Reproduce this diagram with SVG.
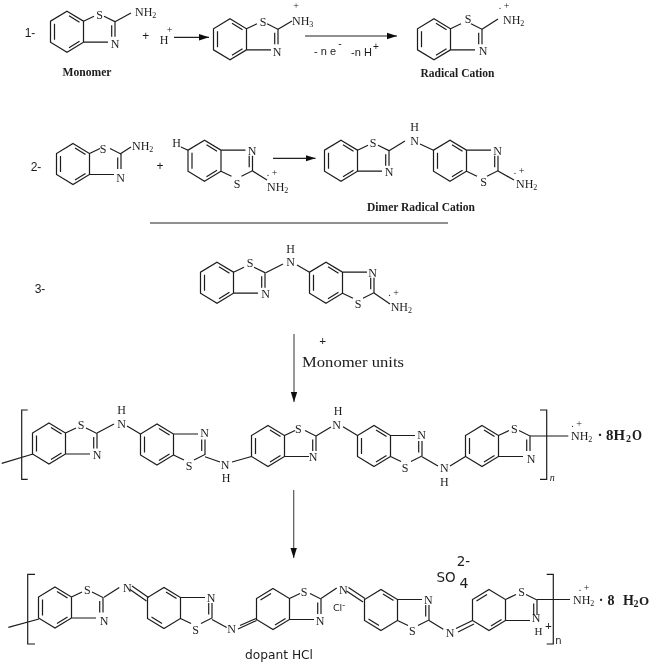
<svg xmlns="http://www.w3.org/2000/svg" width="650" height="663" viewBox="0 0 650 663">
<style>
text{font-family:"Liberation Serif",serif;fill:#1c1c1c;font-size:12px;text-anchor:middle}
.l{text-anchor:start}
.b{font-weight:bold;font-size:12px}
.z{font-size:8px}
.p{font-size:10px}
.h{font-family:"Liberation Sans",sans-serif;font-size:12px}
.d{font-family:"DejaVu Sans",sans-serif;font-size:12px}
.w{font-size:15px;font-weight:bold}
.bd{fill:none;stroke:#1c1c1c;stroke-width:1.2}
#arrows line{stroke:#222;stroke-width:1.2}
</style>
<defs>
<filter id="soft" filterUnits="userSpaceOnUse" x="0" y="0" width="650" height="663"><feGaussianBlur stdDeviation="0.35"/></filter>
<marker id="ah" markerUnits="userSpaceOnUse" markerWidth="10" markerHeight="8" refX="10" refY="4" orient="auto"><path d="M0,0.8 L10,4 L0,7.2Z" fill="#111"/></marker>
<path id="bt" class="bd" d="M0,-20.5 L16.5,-10.5 V10.5 L0,20.5 L-16.5,10.5 V-10.5Z M2,-16 L12.5,-9.5 M-12.5,-8 V8 M2,16 L12.5,9.5 M16.5,-10.5 L27,-15.5 M37,-15.5 L48,-10 V5 M44.7,-6.5 V5 M41,10.5 H16.5"/>
<path id="qn" class="bd" d="M0,-20.5 L16.5,-10.5 V10.5 L0,20.5 L-16.5,10.5 V-10.5Z M-12.5,-9 L-2,-15.5 M2,16 L12.5,9.5 M16.5,-10.5 L27,-15.5 M37,-15.5 L48,-10 V5 M44.7,-6.5 V5 M41,10.5 H16.5"/>
</defs>
<g filter="url(#soft)">

<g id="label-1"><text class="h" x="30" y="37">1-</text></g>
<g id="monomer">
<use href="#bt" transform="translate(67,31.7)"/>
<path class="bd" d="M115,21.7 L131,13"/>
<text x="99.5" y="18.5">S</text><text x="115" y="47.5">N</text>
<text class="l" x="135" y="15.5">NH<tspan class="z" dy="2">2</tspan></text>
<text class="b" x="87" y="75.5" textLength="49" lengthAdjust="spacingAndGlyphs">Monomer</text>
</g>
<g id="plus-h">
<text class="h" x="145.7" y="40">+</text>
<text x="164" y="44">H</text><text class="p" x="169.5" y="33">+</text>
</g>
<g id="protonated">
<use href="#bt" transform="translate(230,39.3)"/>
<path class="bd" d="M278,29.3 L292,21"/>
<text x="263" y="25.5">S</text><text x="277" y="55.5">N</text>
<text class="l" x="292" y="25">NH<tspan class="z" dy="2">3</tspan></text>
<text class="p" x="296" y="9">+</text>
</g>
<g id="radical-cation">
<use href="#bt" transform="translate(434,39.3)"/>
<path class="bd" d="M482,29.3 L498,19"/>
<text x="468" y="23">S</text><text x="483" y="54.5">N</text>
<text class="l" x="503" y="23.5">NH<tspan class="z" dy="2">2</tspan></text>
<text class="p" x="504" y="9">. +</text>
<text class="b" x="457.5" y="76.5" textLength="74" lengthAdjust="spacingAndGlyphs">Radical Cation</text>
</g>
<g id="electron-loss">
<text class="h" x="325" y="55" style="font-size:11px">- n e</text><text class="h" x="340" y="47" style="font-size:10px">-</text>
<text class="h" x="361.5" y="56" style="font-size:11px">-n H</text><text class="h" x="376" y="50" style="font-size:10px">+</text>
</g>

<g id="label-2"><text class="h" x="36" y="171">2-</text></g>
<g id="monomer-2">
<use href="#bt" transform="translate(73,164)"/>
<path class="bd" d="M120,154 L131,147"/>
<text x="103" y="152.5">S</text><text x="120.5" y="181.5">N</text>
<text class="l" x="132" y="149.5">NH<tspan class="z" dy="2">2</tspan></text>
</g>
<g id="plus-2"><text class="h" x="160" y="170">+</text></g>
<g id="radical-2">
<use href="#bt" transform="translate(204.5,160.7) scale(1,-1)"/>
<path class="bd" d="M181,147 L188,150.2 M252.5,171 L267,180"/>
<text x="176.5" y="147">H</text>
<text x="252" y="155">N</text><text x="237" y="187.5">S</text>
<text class="l" x="267" y="191">NH<tspan class="z" dy="2">2</tspan></text>
<text class="p" x="272" y="175.5">. +</text>
</g>
<g id="dimer">
<use href="#bt" transform="translate(341,160.7)"/>
<use href="#bt" transform="translate(450,160.7) scale(1,-1)"/>
<path class="bd" d="M389,150.7 L405,141 M420,144 L433.5,150.2 M498,171 L514,180"/>
<text x="373" y="146.5">S</text><text x="389" y="175.5">N</text>
<text x="414.5" y="131">H</text><text x="414.5" y="144.5">N</text>
<text x="497.5" y="154.5">N</text><text x="483.7" y="185.5">S</text>
<text class="l" x="516" y="188">NH<tspan class="z" dy="2">2</tspan></text>
<text class="p" x="519" y="173.5">. +</text>
<text class="b" x="421" y="210.5" textLength="108" lengthAdjust="spacingAndGlyphs">Dimer Radical Cation</text>
</g>

<g id="label-3"><text class="h" x="40" y="293">3-</text></g>
<g id="dimer-3">
<use href="#bt" transform="translate(217,282.7)"/>
<use href="#bt" transform="translate(326,282.7) scale(1,-1)"/>
<path class="bd" d="M265.7,272.7 L283,264 M297,265 L309.5,272.2 M374,293 L390,304"/>
<text x="250" y="267">S</text><text x="265.7" y="297.5">N</text>
<text x="290.7" y="252.5">H</text><text x="290.7" y="266">N</text>
<text x="372.7" y="276.5">N</text><text x="358" y="307.5">S</text>
<text class="l" x="390.7" y="310.5">NH<tspan class="z" dy="2">2</tspan></text>
<text class="p" x="393.5" y="296">. +</text>
</g>
<g id="monomer-units">
<text class="b" x="322.7" y="345">+</text>
<text x="353" y="366.5" style="font-size:15px" textLength="102" lengthAdjust="spacingAndGlyphs">Monomer units</text>
</g>

<g id="polymer">
<path class="bd" d="M27.7,410 H21.7 V479.3 H27.7 M1.7,463.3 L33,454 M540,410 H546.7 V479.3 H540"/>
<use href="#bt" transform="translate(49,443.5)"/>
<use href="#bt" transform="translate(157,444.5) scale(1,-1)"/>
<use href="#bt" transform="translate(268,446)"/>
<use href="#bt" transform="translate(374,446) scale(1,-1)"/>
<use href="#bt" transform="translate(482,446)"/>
<path class="bd" d="M97,433 L114,424 M127,426 L140.5,434 M205,456.7 L220,462 M232,462 L251.5,456.5 M316,436 L331,427 M343,426.7 L357.5,435.5 M422,456.7 L438,466 M450,466 L465.5,456.5 M530,436 H568.3"/>
<text x="81" y="429">S</text><text x="97" y="459">N</text>
<text x="121.7" y="413.5">H</text><text x="121.7" y="427.5">N</text>
<text x="204.5" y="437">N</text><text x="189" y="469.5">S</text>
<text x="225" y="468.5">N</text><text x="226" y="481.5">H</text>
<text x="298.3" y="432.5">S</text><text x="313" y="460.5">N</text>
<text x="338" y="415">H</text><text x="336.7" y="428.5">N</text>
<text x="421.7" y="439">N</text><text x="405" y="471.5">S</text>
<text x="444.3" y="472">N</text><text x="444.3" y="485.5">H</text>
<text x="514.3" y="432.5">S</text><text x="531" y="462.5">N</text>
<text x="552.3" y="480.5" style="font-style:italic;font-size:10px">n</text>
<text class="l" x="571" y="439.5">NH<tspan class="z" dy="2">2</tspan></text>
<text class="p" x="576.5" y="427">. +</text>
<text class="w" x="600" y="440">·</text>
<text class="w l" x="606" y="440" textLength="19" lengthAdjust="spacingAndGlyphs">8H</text>
<text class="w" x="628.5" y="442" style="font-size:10px">2</text>
<text class="w l" x="632" y="440" textLength="10" lengthAdjust="spacingAndGlyphs">O</text>
</g>

<g id="doped-polymer">
<path class="bd" d="M35,574.3 H27.7 V644 H35 M8.3,627.3 L39,619 M546.7,574.3 H553.3 V644 H546.7"/>
<use href="#bt" transform="translate(55,607.5)"/>
<use href="#qn" transform="translate(164,608) scale(1,-1)"/>
<use href="#qn" transform="translate(273,609)"/>
<use href="#qn" transform="translate(381,610) scale(1,-1)"/>
<use href="#qn" transform="translate(489,610)"/>
<path class="bd" d="M104,597.3 L119.3,587.5 M132,586 L148.5,597.5 M130,589.5 L146.5,601 M212,619.5 L226.7,627.5 M238,629 L256.5,620.5 M240,625.5 L256,618.5 M321,598.5 L336.7,588 M348.5,587.5 L365,598.5 M346.5,591 L363,602 M429,620.5 L443.3,629.3 M456,628.5 L472.5,620.5 M458,632 L474,624 M537,599.5 H570"/>
<text x="87.3" y="593.5">S</text><text x="104" y="624.5">N</text>
<text x="127.3" y="591.5">N</text>
<text x="211" y="601.5">N</text><text x="195.7" y="634">S</text>
<text x="231.7" y="632.5">N</text>
<text x="304" y="595.5">S</text><text x="320" y="624.5">N</text>
<text x="343.3" y="593.5">N</text>
<text class="d" x="339" y="611" style="font-size:9.5px">Cl<tspan dy="-3" style="font-size:8px">-</tspan></text>
<text x="428.3" y="603.5">N</text><text x="412.3" y="634.5">S</text>
<text x="450" y="636.5">N</text>
<text x="521.7" y="595.5">S</text><text x="536" y="621.5">N</text>
<text x="538.5" y="634.5" style="font-size:11px">H</text><text class="b" x="548.5" y="630">+</text>
<text class="d" x="558.3" y="644" style="font-size:10px">n</text>
<text class="l" x="573" y="604">NH<tspan class="z" dy="2">2</tspan></text>
<text class="p" x="584" y="590.5">. +</text>
<text class="w" x="601" y="605" style="font-size:14px">·</text>
<text class="w" x="611" y="605" style="font-size:14px">8</text>
<text class="w l" x="623" y="605" style="font-size:14px">H</text>
<text class="w" x="636" y="607" style="font-size:10px">2</text>
<text class="w l" x="639" y="605" style="font-size:13px">O</text>
<text class="d" x="446" y="582" style="font-size:13.5px">SO</text>
<text class="d" x="464" y="588" style="font-size:14px">4</text>
<text class="d" x="463.5" y="566" style="font-size:13.5px">2-</text>
<text class="d" x="279" y="659" textLength="68" lengthAdjust="spacingAndGlyphs">dopant  HCl</text>
</g>

<g id="arrows">
<line x1="174" y1="37.3" x2="209" y2="37.3" marker-end="url(#ah)"/>
<line x1="305" y1="36" x2="397" y2="36" marker-end="url(#ah)"/>
<line x1="273" y1="158.3" x2="315.5" y2="158.3" marker-end="url(#ah)"/>
<line x1="150" y1="223" x2="448" y2="223"/>
<line x1="294" y1="334" x2="294" y2="402" style="stroke:#555" marker-end="url(#ah)"/>
<line x1="293.7" y1="490" x2="293.7" y2="558" style="stroke:#555" marker-end="url(#ah)"/>
</g>
</g>
</svg>
